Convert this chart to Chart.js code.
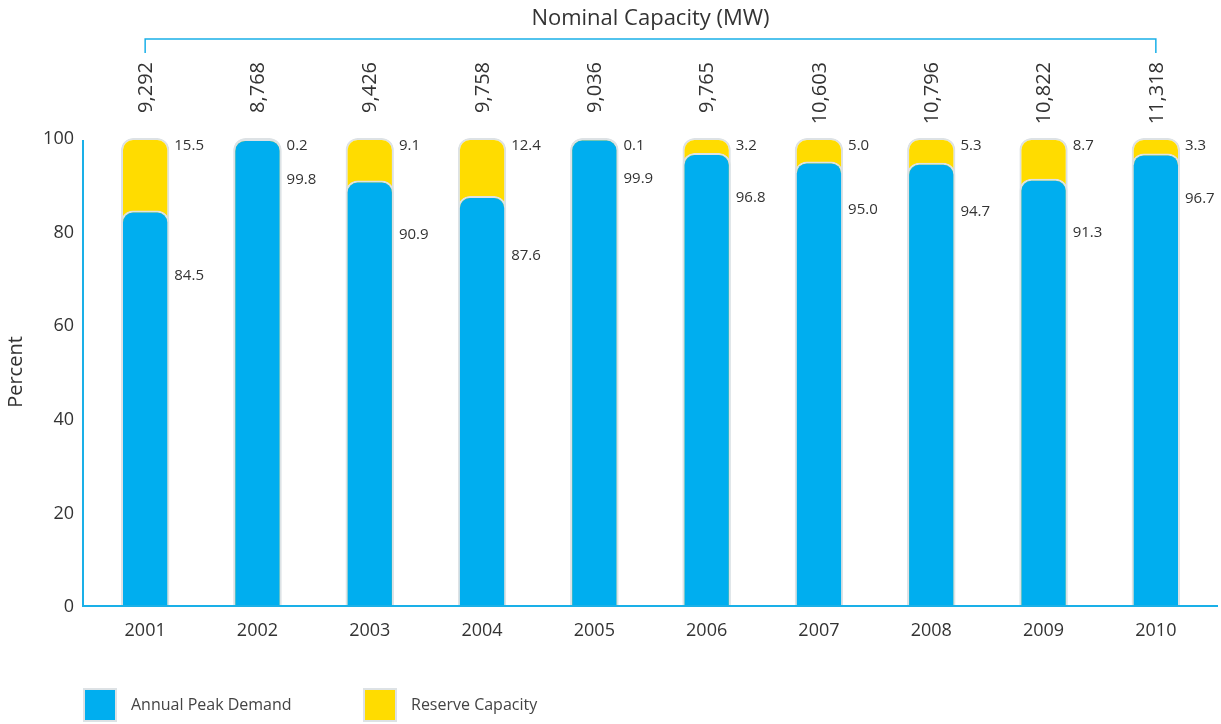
<!DOCTYPE html>
<html>
<head>
<meta charset="utf-8">
<script src="https://cdn.jsdelivr.net/npm/chart.js@4"></script>
<style>
  html, body { margin: 0; padding: 0; background: #fff; }
  #wrap { width: 1221px; height: 724px; }
</style>
</head>
<body>
<div id="wrap"><canvas id="myChart" width="1221" height="724"></canvas></div>
<script>
const years = ['2001', '2002', '2003', '2004', '2005', '2006', '2007', '2008', '2009', '2010'];
const peakDemand = [84.5, 99.8, 90.9, 87.6, 99.9, 96.8, 95.0, 94.7, 91.3, 96.7];
const reserve = [15.5, 0.2, 9.1, 12.4, 0.1, 3.2, 5.0, 5.3, 8.7, 3.3];
const capacityMW = ['9,292', '8,768', '9,426', '9,758', '9,036', '9,765', '10,603', '10,796', '10,822', '11,318'];
const yTicks = [0, 20, 40, 60, 80, 100];

const blue = '#00aeef';
const yellow = '#ffdc00';
const edge = '#dde2e5';
const lineBlue = '#1ab0e8';
const textCol = '#333333';
const font = '"Open Sans", "Noto Sans", sans-serif';

// yellow bar sits behind the blue one and reaches demand + reserve
const totals = peakDemand.map((v, i) => +(v + reserve[i]).toFixed(1));

const extras = {
    id: 'extras',
    afterDraw(chart) {
        const c = chart.ctx;
        const x = chart.scales.x, y = chart.scales.y;
        const area = chart.chartArea;
        c.save();

        // axis lines
        c.strokeStyle = lineBlue;
        c.lineWidth = 2;
        c.beginPath();
        c.moveTo(area.left - 6, y.getPixelForValue(100) + 2);
        c.lineTo(area.left - 6, area.bottom);
        c.lineTo(area.right + 6, area.bottom);
        c.stroke();

        // bracket + title
        const x0 = x.getPixelForValue(0), x1 = x.getPixelForValue(years.length - 1);
        c.lineWidth = 1.5;
        c.beginPath();
        c.moveTo(x0, 53); c.lineTo(x0, 39); c.lineTo(x1, 39); c.lineTo(x1, 53);
        c.stroke();
        c.fillStyle = textCol;
        c.font = '22px ' + font;
        c.textAlign = 'center';
        c.textBaseline = 'middle';
        c.fillText('Nominal Capacity (MW)', (x0 + x1) / 2, 19);

        // capacity numbers, rotated
        c.font = '20px ' + font;
        capacityMW.forEach((t, i) => {
            c.save();
            c.translate(x.getPixelForValue(i), 62);
            c.rotate(-Math.PI / 2);
            c.textAlign = 'right';
            c.textBaseline = 'middle';
            c.fillText(t, 0, 1);
            c.restore();
        });

        // value labels beside bars
        const meta = chart.getDatasetMeta(0);
        c.font = '15px ' + font;
        c.textAlign = 'left';
        c.textBaseline = 'middle';
        peakDemand.forEach((v, i) => {
            const bar = meta.data[i];
            const lx = bar.x + bar.width / 2 + 5;
            c.fillText(reserve[i].toFixed(1), lx, y.getPixelForValue(100) + 8);
            const off = 40 + (100 - v) * 1.6;
            c.fillText(v.toFixed(1), lx, y.getPixelForValue(v) + off);
        });

        // legend
        const items = [['Annual Peak Demand', blue, 83], ['Reserve Capacity', yellow, 363]];
        c.font = '16px ' + font;
        items.forEach(([label, col, lx]) => {
            c.fillStyle = edge;
            c.fillRect(lx, 688, 34, 34);
            c.fillStyle = col;
            c.fillRect(lx + 2, 690, 30, 30);
            c.fillStyle = '#444';
            c.fillText(label, lx + 48, 705);
        });
        c.restore();
    }
};

const ctx = document.getElementById('myChart');

const chart = new Chart(ctx, {
    type: 'bar',
    data: {
        labels: years,
        datasets: [{
            label: 'Annual Peak Demand',
            data: peakDemand,
            backgroundColor: blue,
            borderColor: edge,
            borderWidth: 2,
            borderSkipped: 'bottom',
            borderRadius: { topLeft: 12, topRight: 12 },
            grouped: false,
            order: 0
        }, {
            label: 'Reserve Capacity',
            data: totals,
            backgroundColor: yellow,
            borderColor: edge,
            borderWidth: 2,
            borderSkipped: 'bottom',
            borderRadius: { topLeft: 12, topRight: 12 },
            grouped: false,
            order: 1
        }]
    },
    options: {
        responsive: false,
        animation: false,
        layout: { padding: { top: 138, right: 9, left: 0, bottom: 0 } },
        categoryPercentage: 1,
        barPercentage: 0.43,
        plugins: {
            legend: { display: false },
            tooltip: { enabled: false }
        },
        scales: {
            x: {
                grid: { display: false, drawTicks: false },
                border: { display: false },
                ticks: { color: textCol, font: { family: font, size: 18 }, padding: 14 },
                afterFit: s => { s.height = 118; }
            },
            y: {
                min: 0,
                max: 100,
                grid: { display: false, drawTicks: false },
                border: { display: false },
                afterBuildTicks: s => { s.ticks = yTicks.map(v => ({ value: v })); },
                ticks: { color: textCol, font: { family: font, size: 18 }, padding: 15, labelOffset: 1 },
                title: { display: true, text: 'Percent', color: textCol, font: { family: font, size: 20 }, padding: { top: 4, bottom: 0 } },
                afterFit: s => { s.width = 89; }
            }
        }
    },
    plugins: [extras]
});
</script>
</body>
</html>
